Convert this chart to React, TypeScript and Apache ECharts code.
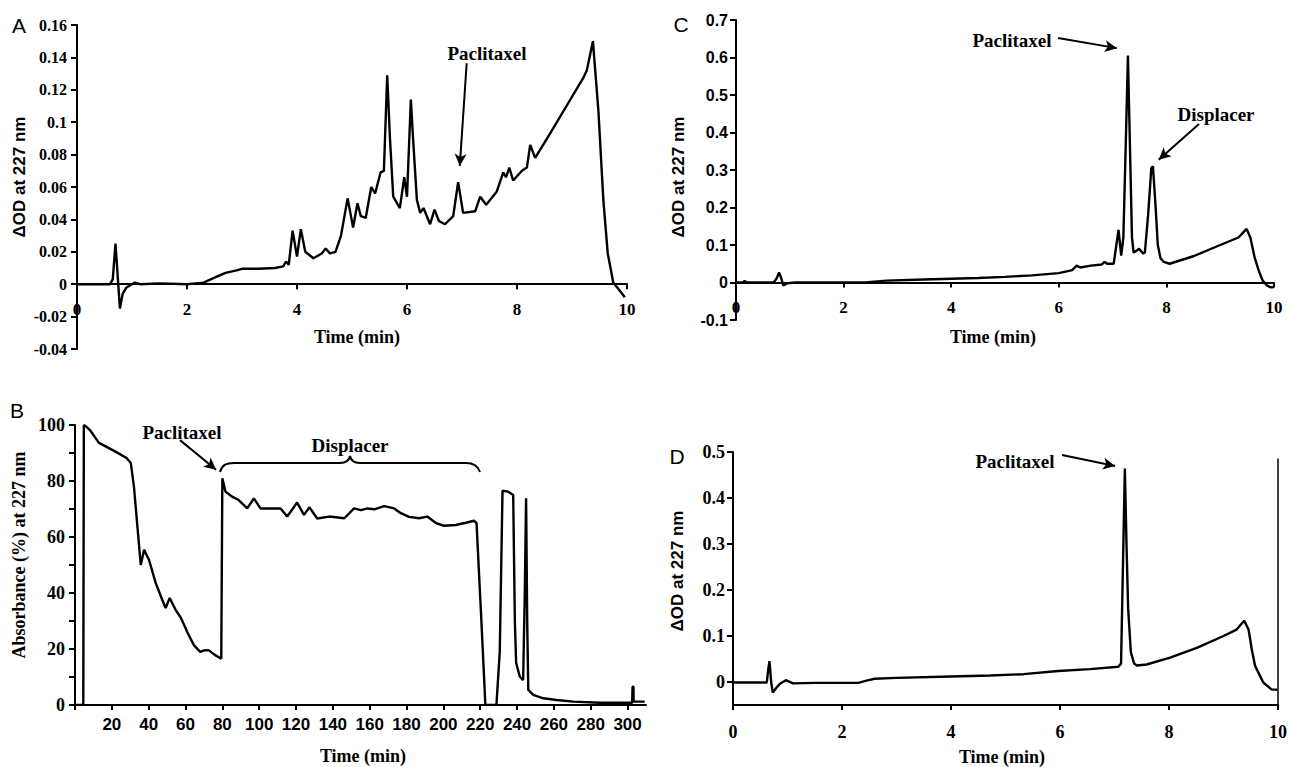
import React, { useEffect, useRef } from "react";
import * as echarts from "echarts";

// ---------- DATA (time in min, signal) ----------
const traceA: [number, number][] = [
  [0, 0], [0.6, 0], [0.65, 0.003], [0.7, 0.025], [0.75, 0.0], [0.78, -0.015], [0.83, -0.006], [0.9, -0.002],
  [1.0, 0], [1.05, 0.001], [1.15, 0], [1.5, 0.0005], [2.0, 0], [2.3, 0.001], [2.5, 0.004], [2.7, 0.007],
  [2.9, 0.0085], [3.0, 0.0095], [3.3, 0.0095], [3.6, 0.01], [3.75, 0.011], [3.8, 0.014], [3.85, 0.012],
  [3.92, 0.033], [4.0, 0.017], [4.07, 0.034], [4.15, 0.02], [4.3, 0.016], [4.45, 0.019], [4.52, 0.022],
  [4.6, 0.019], [4.7, 0.02], [4.8, 0.03], [4.92, 0.053], [5.02, 0.035], [5.1, 0.05], [5.16, 0.042],
  [5.25, 0.041], [5.35, 0.06], [5.42, 0.056], [5.52, 0.069], [5.58, 0.07], [5.64, 0.129], [5.69, 0.09],
  [5.75, 0.054], [5.87, 0.047], [5.95, 0.066], [6.0, 0.054], [6.07, 0.114], [6.11, 0.09], [6.18, 0.052],
  [6.24, 0.044], [6.3, 0.047], [6.42, 0.037], [6.5, 0.046], [6.58, 0.039], [6.69, 0.037], [6.84, 0.042],
  [6.93, 0.063], [7.02, 0.044], [7.24, 0.045], [7.33, 0.054], [7.44, 0.049], [7.63, 0.057], [7.75, 0.069],
  [7.8, 0.066], [7.86, 0.072], [7.93, 0.064], [8.09, 0.07], [8.18, 0.072], [8.24, 0.086], [8.33, 0.078],
  [8.6, 0.093], [8.9, 0.11], [9.2, 0.127], [9.27, 0.132], [9.38, 0.15], [9.48, 0.107], [9.57, 0.052],
  [9.65, 0.019], [9.75, 0.001], [9.87, -0.004], [9.96, -0.008],
];

const traceB: [number, number][] = [
  [0, 0], [4.5, 0], [4.8, 100], [6, 99.5], [8.1, 98.2], [13, 93.6], [22, 90.5], [28, 88.2], [30.3, 86.4],
  [32, 78], [33.9, 63.6], [35.7, 50], [37.5, 55.4], [40.2, 51.8], [43.8, 43.6], [47.4, 37.5], [49.2, 34.6],
  [51.4, 38.2], [54.6, 34], [57.6, 31], [61, 26], [64.5, 21.4], [68, 19], [70, 19.5], [72.5, 19.6],
  [75.9, 17.9], [79.4, 16.5], [80, 81], [81.7, 76.2], [85.3, 74.4], [88.9, 73.2], [93.5, 70.2], [97.1, 73.8],
  [100.7, 70.2], [105.2, 70.2], [111.6, 70.2], [115.2, 67.3], [120.6, 72.3], [124.3, 67.9], [127.3, 70.6],
  [131.5, 66.6], [138, 67.3], [146.2, 66.7], [151.5, 70.2], [155.2, 69.6], [158.8, 70.2], [162.4, 69.9],
  [167.9, 71], [173.3, 70.2], [176.9, 68.5], [181.4, 67.2], [186.8, 66.7], [191.3, 67.3], [195.9, 65],
  [200.4, 64], [206.7, 64.3], [212.2, 65.1], [216.6, 65.8], [218, 65], [219.7, 42.3], [220.6, 30.4],
  [222.8, 0], [228.8, 0], [230.6, 19], [232.1, 76.5], [235.2, 76.2], [237.9, 75], [238.8, 30], [239.5, 15],
  [241.5, 10.1], [243.3, 8.9], [244.2, 40], [244.9, 73.8], [245.5, 30], [246.1, 5.4], [248.8, 3.6],
  [254.2, 2.4], [261.5, 1.8], [270.5, 1.2], [285, 0.8], [302.5, 0.8], [302.7, 6.5], [303.2, 6.5],
  [303.3, 1.2], [309.3, 1.2],
];

const traceC: [number, number][] = [
  [0, 0], [0.12, 0], [0.16, 0.004], [0.2, 0], [0.7, 0], [0.76, 0.012], [0.8, 0.027], [0.84, 0.012],
  [0.88, -0.008], [0.95, -0.002], [1.1, 0], [2.4, 0], [2.8, 0.005], [3.5, 0.008], [4.0, 0.01], [4.5, 0.012],
  [5.0, 0.015], [5.5, 0.019], [6.0, 0.025], [6.25, 0.033], [6.33, 0.045], [6.4, 0.04], [6.6, 0.045],
  [6.8, 0.048], [6.85, 0.055], [6.9, 0.05], [7.02, 0.05], [7.07, 0.1], [7.11, 0.14], [7.16, 0.072],
  [7.2, 0.12], [7.25, 0.4], [7.285, 0.605], [7.32, 0.38], [7.36, 0.12], [7.39, 0.08], [7.45, 0.085],
  [7.49, 0.09], [7.57, 0.077], [7.6, 0.08], [7.66, 0.18], [7.72, 0.305], [7.75, 0.31], [7.8, 0.2],
  [7.84, 0.1], [7.89, 0.065], [7.95, 0.055], [8.06, 0.05], [8.5, 0.07], [9.0, 0.1], [9.34, 0.12],
  [9.49, 0.143], [9.56, 0.12], [9.64, 0.067], [9.72, 0.03], [9.79, 0.005], [9.87, -0.008], [9.94, -0.013],
  [10.0, -0.012],
];

const traceD: [number, number][] = [
  [0, -0.001], [0.62, -0.001], [0.65, 0.03], [0.67, 0.045], [0.7, 0.0], [0.73, -0.023], [0.8, -0.012],
  [0.86, -0.004], [0.97, 0.004], [1.1, -0.003], [1.5, -0.002], [2.3, -0.002], [2.45, 0.003], [2.6, 0.007],
  [3.0, 0.009], [4.0, 0.012], [4.72, 0.014], [5.33, 0.017], [5.97, 0.024], [6.55, 0.028], [7.07, 0.033],
  [7.12, 0.04], [7.19, 0.464], [7.22, 0.3], [7.25, 0.16], [7.3, 0.065], [7.36, 0.04], [7.41, 0.036],
  [7.59, 0.038], [8.02, 0.053], [8.51, 0.074], [9.0, 0.1], [9.24, 0.114], [9.38, 0.133], [9.46, 0.114],
  [9.52, 0.07], [9.58, 0.035], [9.73, -0.001], [9.88, -0.016], [9.99, -0.017],
];

// tick values
const minTicks10 = [0, 2, 4, 6, 8, 10];
const bXTicks = [0, 20, 40, 60, 80, 100, 120, 140, 160, 180, 200, 220, 240, 260, 280, 300];
const bXLabels = [20, 40, 60, 80, 100, 120, 140, 160, 180, 200, 220, 240, 260, 280, 300];
const dYTicks = [0, 0.1, 0.2, 0.3, 0.4, 0.5];

// annotation arrows (data units): [from, to]
const arrowA = [[7.085, 0.1364], [6.96, 0.073]];
const arrowBPac = [[57.0, 94.6], [76.6, 84.0]];
const arrowCPac = [[5.985, 0.652], [7.08, 0.625]];
const arrowCDis = [[8.606, 0.4227], [7.857, 0.3275]];
const arrowDPac = [[6.037, 0.4935], [7.011, 0.4696]];
const lineD10 = [[10, -0.05], [10, 0.486]];

const SERIF = '"Liberation Serif", "Times New Roman", serif';
const SANS = '"Liberation Sans", Arial, sans-serif';

const braceD =
  "M220,472 C222,465 226,463 234,463 L340,463 C346,463 349,461 350,456 C351,461 354,463 360,463 L466,463 C474,463 478,466 480,472";
echarts.graphic.registerShape("brace", echarts.graphic.extendPath(braceD, {}));

const axisLineStyle = { color: "#000", width: 2 };

function xAx(grid: number, o: any) {
  return {
    type: "value",
    gridIndex: grid,
    offset: o.offset || 0,
    splitLine: { show: false },
    axisLine: { show: true, onZero: false, lineStyle: axisLineStyle },
    axisTick: { show: true, length: 5, lineStyle: axisLineStyle, customValues: o.ticks },
    axisLabel: {
      show: true,
      color: "#000",
      fontWeight: "bold",
      fontFamily: o.font,
      fontSize: o.size,
      margin: o.margin,
      customValues: o.labels,
    },
    min: o.min,
    max: o.max,
    interval: o.interval,
  };
}

function yAx(grid: number, o: any) {
  return {
    type: "value",
    gridIndex: grid,
    splitLine: { show: false },
    axisLine: { show: true, onZero: false, lineStyle: axisLineStyle },
    axisTick: { show: true, length: 6, lineStyle: axisLineStyle, customValues: o.ticks },
    axisLabel: {
      show: true,
      color: "#000",
      fontWeight: "bold",
      fontFamily: o.font,
      fontSize: o.size,
      margin: o.margin,
      customValues: o.labels,
      formatter: o.formatter,
    },
    min: o.min,
    max: o.max,
    interval: o.interval,
  };
}

function arrowMark(list: number[][][]) {
  return {
    silent: true,
    animation: false,
    symbol: ["none", "arrow"],
    symbolSize: [9, 12],
    label: { show: false },
    lineStyle: { color: "#000", width: 2, type: "solid" },
    data: list.map((a) => [{ coord: a[0] }, { coord: a[1] }]),
  };
}

function lineSeries(idx: number, data: [number, number][], width: number, mark?: any) {
  return {
    type: "line",
    xAxisIndex: idx,
    yAxisIndex: idx,
    data,
    showSymbol: false,
    symbol: "none",
    lineStyle: { color: "#000", width },
    silent: true,
    markLine: mark,
  };
}

function txt(text: string, x: number, y: number, font: string, rot = 0) {
  return {
    type: "text",
    x,
    y,
    rotation: rot,
    style: { text, font, fill: "#000", align: "center", verticalAlign: "middle" },
  };
}

// grid boxes: left, top, width, height
const gridA = [77, 25, 550, 324];
const gridB = [75, 425, 571, 280];
const gridC = [736, 20, 538, 300];
const gridD = [733, 452, 545, 253];

export default function App() {
  const ref = useRef<HTMLDivElement>(null);
  useEffect(() => {
    if (!ref.current) return;
    const chart = echarts.init(ref.current, undefined, { renderer: "svg" });
    const g = (b: number[]) => ({
      left: b[0],
      top: b[1],
      width: b[2],
      height: b[3],
      containLabel: false,
      outerBoundsMode: "none",
    });
    // shift the x axis of A and C up to the zero line (axis crosses at y = 0)
    const zeroOffA = -(gridA[3] * 0.04) / 0.2;
    const zeroOffC = -(gridC[3] * 0.1) / 0.8;
    const option: any = {
      animation: false,
      backgroundColor: "#fff",
      grid: [g(gridA), g(gridB), g(gridC), g(gridD)],
      xAxis: [
        xAx(0, { min: 0, max: 10, interval: 2, offset: zeroOffA, font: SERIF, size: 17, margin: 17 }),
        xAx(1, {
          min: 0, max: 310, font: SANS, size: 17, margin: 11,
          ticks: bXTicks, labels: bXLabels,
        }),
        xAx(2, { min: 0, max: 10, interval: 2, offset: zeroOffC, font: SERIF, size: 17, margin: 16 }),
        xAx(3, { min: 0, max: 10, interval: 2, font: SERIF, size: 18, margin: 18, ticks: minTicks10, labels: minTicks10 }),
      ],
      yAxis: [
        yAx(0, { min: -0.04, max: 0.16, interval: 0.02, font: SERIF, size: 16, margin: 10 }),
        yAx(1, {
          min: 0, max: 100, interval: 10, font: SERIF, size: 18, margin: 10,
          formatter: (v: number) => (Math.round(v) % 20 === 0 ? String(Math.round(v)) : ""),
        }),
        yAx(2, { min: -0.1, max: 0.7, interval: 0.1, font: SANS, size: 16, margin: 8 }),
        yAx(3, { min: -0.05, max: 0.5, font: SERIF, size: 18, margin: 8, ticks: dYTicks, labels: dYTicks }),
      ],
      series: [
        lineSeries(0, traceA, 2.4, arrowMark([arrowA])),
        lineSeries(1, traceB, 2.4, arrowMark([arrowBPac])),
        lineSeries(2, traceC, 2.4, arrowMark([arrowCPac, arrowCDis])),
        lineSeries(3, traceD, 2.4, {
          silent: true,
          animation: false,
          label: { show: false },
          lineStyle: { color: "#000", width: 2, type: "solid" },
          symbolSize: [9, 12],
          data: [
            [{ coord: arrowDPac[0], symbol: "none" }, { coord: arrowDPac[1], symbol: "arrow" }],
            [
              { coord: lineD10[0], symbol: "none", lineStyle: { width: 1.5, color: "#000", type: "solid" } },
              { coord: lineD10[1], symbol: "none" },
            ],
          ],
        }),
      ],
      graphic: [
        txt("A", 19, 25, `21px ${SANS}`),
        txt("B", 17, 410, `21px ${SANS}`),
        txt("C", 681, 24, `21px ${SANS}`),
        txt("D", 677, 456, `21px ${SANS}`),
        txt("ΔOD at 227 nm", 19, 177, `bold 17px ${SANS}`, Math.PI / 2),
        txt("Absorbance (%) at 227 nm", 19, 555, `bold 18px ${SERIF}`, Math.PI / 2),
        txt("ΔOD at 227 nm", 678, 177, `bold 17px ${SANS}`, Math.PI / 2),
        txt("ΔOD at 227 nm", 677, 571, `bold 17px ${SANS}`, Math.PI / 2),
        txt("Time (min)", 357, 337, `bold 18px ${SERIF}`),
        txt("Time (min)", 363, 756, `bold 18px ${SERIF}`),
        txt("Time (min)", 993, 337, `bold 18px ${SERIF}`),
        txt("Time (min)", 1002, 757, `bold 18px ${SERIF}`),
        txt("Paclitaxel", 487, 53, `bold 19px ${SERIF}`),
        txt("Paclitaxel", 182, 432, `bold 19px ${SERIF}`),
        txt("Displacer", 350, 445, `bold 19px ${SERIF}`),
        txt("Paclitaxel", 1012, 40, `bold 19px ${SERIF}`),
        txt("Displacer", 1216, 114, `bold 19px ${SERIF}`),
        txt("Paclitaxel", 1015, 461, `bold 19px ${SERIF}`),
        {
          type: "brace",
          x: 0,
          y: 0,
          style: { stroke: "#000", fill: "none", lineWidth: 2 },
        },
      ],
    };
    chart.setOption(option);
    return () => chart.dispose();
  }, []);
  return (
    <div
      ref={ref}
      style={{ position: "absolute", left: 0, top: 0, width: 1290, height: 767, background: "#fff" }}
    />
  );
}
